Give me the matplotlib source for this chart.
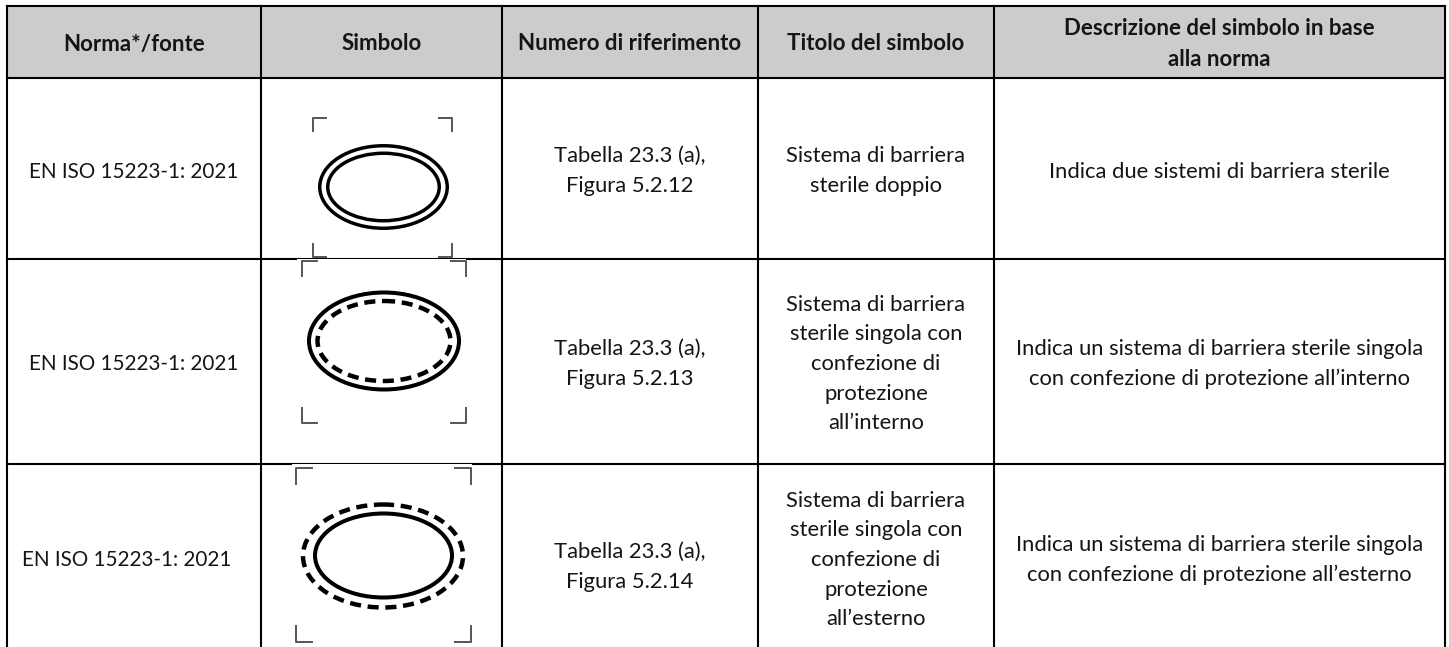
import matplotlib
matplotlib.use('Agg')
import matplotlib.pyplot as plt
from matplotlib.patches import Rectangle, Ellipse

W, H = 1449, 647

# Table contents
headers = ['Norma*/fonte', 'Simbolo', 'Numero di riferimento', 'Titolo del simbolo',
           'Descrizione del simbolo in base\nalla norma']
norme = ['EN ISO 15223-1: 2021', 'EN ISO 15223-1: 2021', 'EN ISO 15223-1: 2021']
riferimenti = ['Tabella 23.3 (a),\nFigura 5.2.12', 'Tabella 23.3 (a),\nFigura 5.2.13',
               'Tabella 23.3 (a),\nFigura 5.2.14']
titoli = ['Sistema di barriera\nsterile doppio',
          'Sistema di barriera\nsterile singola con\nconfezione di\nprotezione\nall\u2019interno',
          'Sistema di barriera\nsterile singola con\nconfezione di\nprotezione\nall\u2019esterno']
descrizioni = ['Indica due sistemi di barriera sterile',
               'Indica un sistema di barriera sterile singola\ncon confezione di protezione all\u2019interno',
               'Indica un sistema di barriera sterile singola\ncon confezione di protezione all\u2019esterno']

col_x = [7, 261, 502, 758, 994, 1445]
row_y = [6, 78, 259, 464, 647]

# vertical text centre per row, column by column
norme_y = [171.5, 363.5, 559.5]
norme_x = [134, 134, 127]
riferimenti_y = [171, 364, 567]
titoli_y = [171, 364, 560]
descrizioni_y = [171.5, 364, 560]

plt.rcParams['font.family'] = ['Lato', 'DejaVu Sans']

fig = plt.figure(figsize=(W / 100, H / 100), dpi=100)
ax = fig.add_axes([0, 0, 1, 1])
ax.set_xlim(0, W)
ax.set_ylim(H, 0)
ax.axis('off')

# Header background
ax.add_patch(Rectangle((col_x[0], row_y[0]), col_x[-1] - col_x[0], row_y[1] - row_y[0],
                       facecolor='#cccccc', edgecolor='none', zorder=0))

# Grid
for x in col_x:
    ax.plot([x, x], [row_y[0], H], color='black', lw=1.5, zorder=1, solid_capstyle='projecting')
for y in row_y[:-1]:
    ax.plot([col_x[0], col_x[-1]], [y, y], color='black', lw=1.5, zorder=1, solid_capstyle='projecting')

# Text
centers = [(col_x[i] + col_x[i + 1]) / 2 for i in range(5)]
TXT = '#151515'
LS = 1.6
for cx, label in zip(centers, headers):
    ax.text(cx, 44, label, ha='center', va='center', fontsize=16.0, fontweight='bold',
            color=TXT, linespacing=LS)
for i in range(3):
    ax.text(norme_x[i], norme_y[i], norme[i], ha='center', va='center', fontsize=14.9, color=TXT)
    ax.text(centers[2], riferimenti_y[i], riferimenti[i], ha='center', va='center', fontsize=15.8,
            color=TXT, linespacing=LS)
    ax.text(centers[3], titoli_y[i], titoli[i], ha='center', va='center', fontsize=15.8,
            color=TXT, linespacing=LS)
    ax.text(centers[4], descrizioni_y[i], descrizioni[i], ha='center', va='center', fontsize=15.8,
            color=TXT, linespacing=LS)


def corners(x0, x1, y0, y1, arm=12):
    for x, y, dx, dy in [(x0, y0, 1, 1), (x1, y0, -1, 1), (x0, y1, 1, -1), (x1, y1, -1, -1)]:
        ax.plot([x + dx * arm, x, x], [y, y, y + dy * arm], color='#555555', lw=1.4, zorder=3)


def ring(cx, cy, w, h, lw, ls='-'):
    ax.add_patch(Ellipse((cx, cy), w, h, facecolor='none', edgecolor='black',
                         lw=lw, ls=ls, zorder=3))


DASH = (0, (2.5, 1.5))

# Symbol 1: double ring
corners(313, 452, 118, 257, arm=13)
ring(383.5, 187, 127.5, 82.5, 2.5)
ring(383.5, 187, 111.5, 67.5, 2.5)

# Symbol 2: solid outer, dashed inner (image pasted over the grid line)
ax.add_patch(Rectangle((297, 259.3), 169, 3, facecolor='white', edgecolor='none', zorder=2))
corners(302, 466, 260.5, 423, arm=15)
ring(384, 341, 150, 97, 2.9)
ring(384, 341, 133, 80, 3.2, ls=DASH)

# Symbol 3: dashed outer, solid inner
ax.add_patch(Rectangle((292, 464.3), 180, 3, facecolor='white', edgecolor='none', zorder=2))
corners(296, 471, 468, 642, arm=16)
ring(383.5, 555.5, 137, 84, 2.9)
ring(383, 556, 160, 103, 3.2, ls=DASH)

fig.savefig('out.png', dpi=100, facecolor='white')
